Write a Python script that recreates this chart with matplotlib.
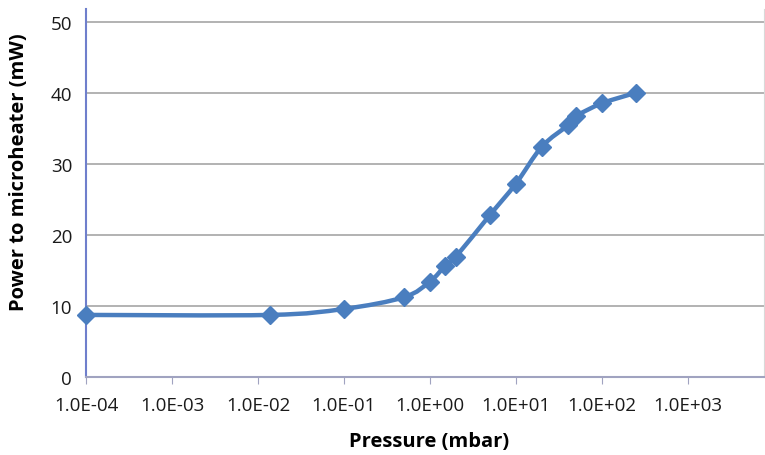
import numpy as np
import matplotlib.pyplot as plt
from matplotlib.path import Path
from matplotlib.patches import PathPatch

pressure = [1e-4, 0.0137, 0.1, 0.5, 1.0, 1.5, 2.0, 5.0, 10.0, 20.0, 40.0, 50.0, 100.0, 250.0]
power = [8.7, 8.7, 9.55, 11.2, 13.4, 15.6, 16.9, 22.8, 27.2, 32.4, 35.4, 36.7, 38.5, 40.0]
xticks = [1e-4, 1e-3, 1e-2, 1e-1, 1e0, 1e1, 1e2, 1e3]
xtick_labels = ["1.0E-04", "1.0E-03", "1.0E-02", "1.0E-01", "1.0E+00", "1.0E+01", "1.0E+02", "1.0E+03"]
yticks = [0, 10, 20, 30, 40, 50]

plt.rcParams['font.family'] = ['Open Sans', 'DejaVu Sans']
line_color = '#4a7ebf'

fig = plt.figure(figsize=(7.65, 4.56), dpi=100)
ax = fig.add_axes([86 / 765, (456 - 377.7) / 456, (764 - 86) / 765, (377.7 - 10) / 456])
ax.set_xscale('log')
ax.set_xlim(1e-4, 10 ** (3 + 76 / 85.9))
ax.set_ylim(0, 50 * (377.7 - 10) / (377.7 - 22.7))

# smoothed line like the spreadsheet's, built as cubic Bezier segments in log-x space
lx = np.log10(pressure)
py = np.array(power)
pts = np.column_stack([lx, py])
verts = [pts[0]]
codes = [Path.MOVETO]
n = len(pts)
for i in range(n - 1):
    p0 = pts[max(i - 1, 0)]
    p1 = pts[i]
    p2 = pts[i + 1]
    p3 = pts[min(i + 2, n - 1)]
    c1 = p1 + (p2 - p0) / 6
    c2 = p2 - (p3 - p1) / 6
    verts += [c1, c2, p2]
    codes += [Path.CURVE4] * 3
verts = np.array(verts)
verts[:, 0] = 10 ** verts[:, 0]
ax.add_patch(PathPatch(Path(verts, codes), facecolor='none', edgecolor=line_color, lw=3.2, zorder=3, clip_on=False))
ax.plot(pressure, power, ls='none', marker='D', ms=9, color=line_color, zorder=4, clip_on=False)

ax.set_xticks(xticks)
ax.set_xticklabels(xtick_labels)
ax.xaxis.set_minor_locator(plt.NullLocator())
ax.set_yticks(yticks)
ax.grid(axis='y', color='#a6a6a6', lw=1.2)
ax.set_axisbelow(True)

ax.spines['top'].set_visible(False)
ax.spines['right'].set_color('#d9d9d9')
ax.spines['left'].set_color('#6f7fcc')
ax.spines['left'].set_linewidth(1.5)
ax.spines['bottom'].set_color('#a0a3c0')
ax.spines['bottom'].set_linewidth(1.5)
ax.tick_params(axis='x', length=5, color='#a0a3c0', labelsize=13.5, pad=9, colors='#1a1a1a')
ax.tick_params(axis='y', length=0, labelsize=13.5, pad=10, colors='#1a1a1a')

ax.set_xlabel('Pressure (mbar)', fontsize=14.5, fontweight='bold', va='center')
ax.set_ylabel('Power to microheater (mW)', fontsize=14.5, fontweight='bold', va='center')
ax.xaxis.set_label_coords(0.506, -0.175)
ax.yaxis.set_label_coords(-0.099, 0.56)

fig.savefig('out.png', dpi=100)
